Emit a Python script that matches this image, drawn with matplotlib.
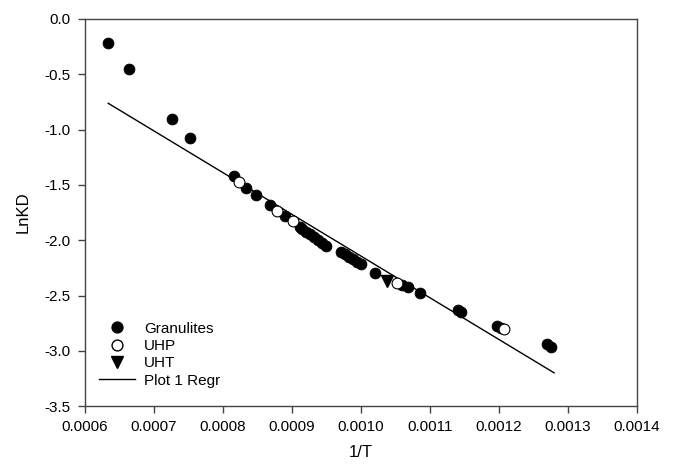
import matplotlib
matplotlib.use("Agg")
import matplotlib.pyplot as plt
from matplotlib.lines import Line2D

plt.rcParams["font.family"] = ["Liberation Sans", "DejaVu Sans"]

# Granulites (filled circles)
gran_x = [0.000634, 0.000664, 0.000726, 0.000753,
          0.000816, 0.000834, 0.000848, 0.000868, 0.000890, 0.000912,
          0.000915, 0.000921, 0.000926, 0.000932, 0.000938, 0.000944, 0.000950,
          0.000971, 0.000977, 0.000983, 0.000989, 0.000994, 0.001000,
          0.001021, 0.001060, 0.001069, 0.001085,
          0.001141, 0.001145, 0.001197, 0.001203, 0.001269, 0.001276]
gran_y = [-0.214, -0.452, -0.904, -1.076,
          -1.417, -1.525, -1.592, -1.682, -1.782, -1.884,
          -1.895, -1.922, -1.944, -1.972, -1.999, -2.021, -2.048,
          -2.103, -2.125, -2.148, -2.171, -2.193, -2.216,
          -2.294, -2.406, -2.421, -2.481,
          -2.632, -2.647, -2.774, -2.790, -2.942, -2.964]

# UHP (open circles)
uhp_x = [0.000824, 0.000879, 0.000901, 0.001052, 0.001207]
uhp_y = [-1.471, -1.736, -1.827, -2.385, -2.804]

# UHT (filled triangles)
uht_x = [0.001038]
uht_y = [-2.367]

# regression line end points
reg_x = [0.000634, 0.001280]
reg_y = [-0.762, -3.199]

fig = plt.figure(figsize=(6.78, 4.69), dpi=100)
ax = fig.add_axes([0.125, 0.134, 0.8145, 0.8255])

ax.plot(reg_x, reg_y, color="black", linewidth=1.0, label="Plot 1 Regr", zorder=2)
ax.plot(gran_x, gran_y, "o", color="black", markersize=7.8,
        markeredgewidth=0.6, label="Granulites", zorder=3)
ax.plot(uhp_x, uhp_y, "o", markerfacecolor="white", markeredgecolor="black",
        markersize=7.8, markeredgewidth=0.8, label="UHP", zorder=4)
ax.plot(uht_x, uht_y, "v", color="black", markersize=8, label="UHT", zorder=3)

ax.set_xlim(0.0006, 0.0014)
ax.set_ylim(-3.5, 0.0)
ax.set_xticks([0.0006 + 0.0001 * i for i in range(9)])
ax.set_xticklabels([f"{0.0006 + 0.0001 * i:.4f}" for i in range(9)])
ax.set_yticks([-3.5 + 0.5 * i for i in range(8)])
ax.set_yticklabels([f"{-3.5 + 0.5 * i:.1f}" for i in range(8)])

for side in ["left", "bottom", "top", "right"]:
    ax.spines[side].set_color("#444444")
    ax.spines[side].set_linewidth(1.0)
ax.tick_params(direction="out", length=5, width=1.0, color="#444444",
               labelsize=11, pad=5, top=False, right=False)

ax.set_xlabel("1/T", fontsize=12, labelpad=8)
ax.set_ylabel("LnKD", fontsize=12, labelpad=10)

handles = [
    Line2D([], [], linestyle="none", marker="o", color="black", markersize=7.8),
    Line2D([], [], linestyle="none", marker="o", markerfacecolor="white",
           markeredgecolor="black", markersize=7.8),
    Line2D([], [], linestyle="none", marker="v", color="black", markersize=8),
    Line2D([], [], color="black", linewidth=1.0),
]
ax.legend(handles, ["Granulites", "UHP", "UHT", "Plot 1 Regr"],
          loc="lower left", bbox_to_anchor=(0.0, 0.012), frameon=False,
          fontsize=11, handlelength=2.4, handletextpad=0.6, labelspacing=0.22)

fig.savefig("out.png", dpi=100)
